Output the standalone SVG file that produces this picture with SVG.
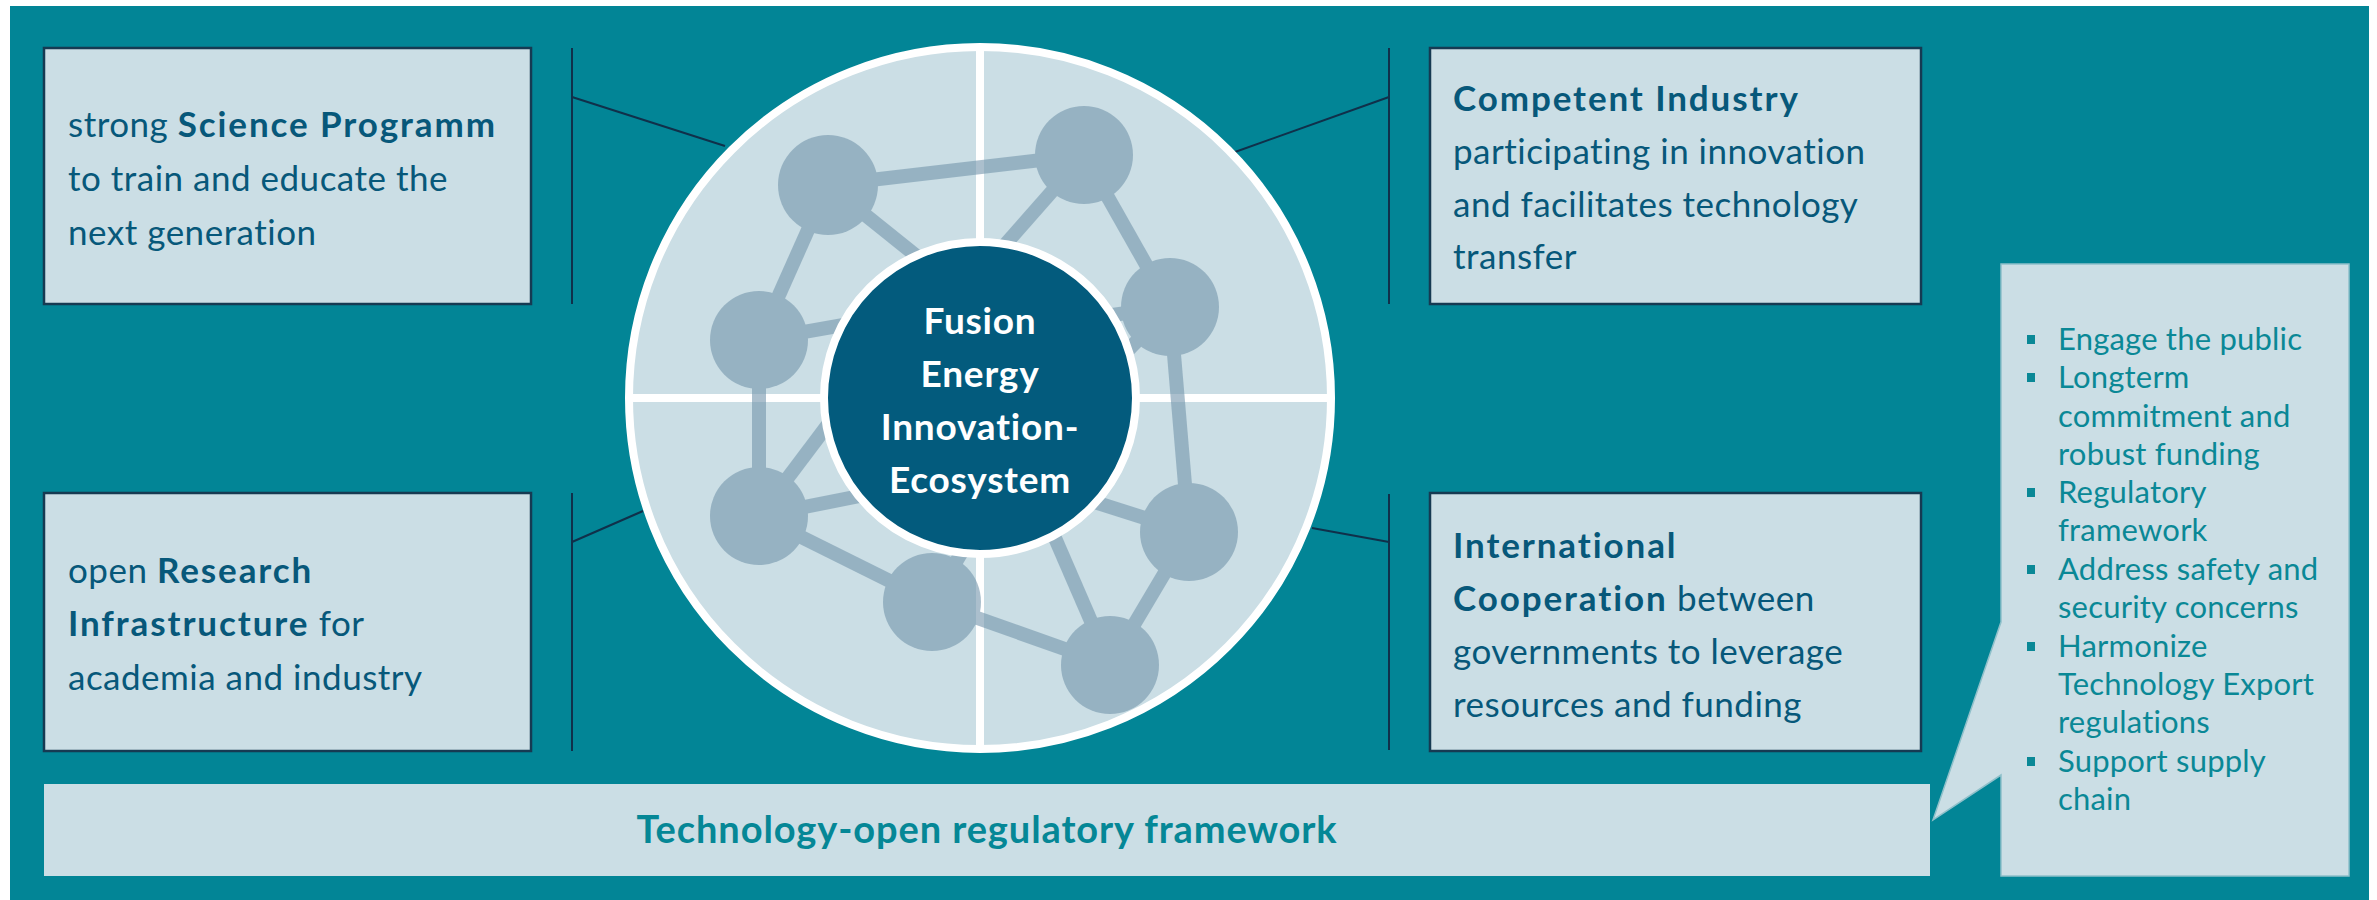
<svg xmlns="http://www.w3.org/2000/svg" width="2377" height="900" viewBox="0 0 2377 900">
  <style>
    .panel{fill:#cbdee5;stroke:#163a52;stroke-width:2.5}
    .txt{font-family:Lato,"Open Sans","Liberation Sans",sans-serif;font-size:35px;letter-spacing:0.5px;fill:#07587a}
    .b{font-weight:700;letter-spacing:1.9px}
    .conn{stroke:#10304a;stroke-width:2;fill:none}
    .bul{font-family:Lato,"Open Sans","Liberation Sans",sans-serif;font-size:31px;letter-spacing:0.2px;fill:#0a8896}
    .dot{fill:#0a8896}
    .bond{stroke:#7496ac;stroke-width:14;stroke-linecap:butt}
    .atom{fill:#7496ac}
    .core{font-family:Lato,"Open Sans","Liberation Sans",sans-serif;font-size:37px;font-weight:700;letter-spacing:0.8px;fill:#ffffff;text-anchor:middle}
  </style>

  <!-- teal backdrop -->
  <rect x="10" y="6" width="2359" height="894" fill="#028596"/>

  <!-- connectors from the four panels towards the central wheel -->
  <g id="connectors" class="conn">
    <path d="M572,48 V304 M572,97 L725,146"/>
    <path d="M1389,48 V304 M1389,97 L1235,152"/>
    <path d="M572,493 V751 M572,542 L643,511"/>
    <path d="M1389,494 V750 M1389,542 L1312,528"/>
  </g>

  <!-- central wheel with molecule network -->
  <g id="ecosystem">
    <circle cx="980" cy="398" r="351" fill="#cbdee5"/>
    <path d="M980,47 V749 M629,398 H1331" stroke="#ffffff" stroke-width="8"/>
    <g opacity="0.6">
      <g class="bond">
        <line x1="828" y1="185" x2="1084" y2="155"/>
        <line x1="828" y1="185" x2="759" y2="340"/>
        <line x1="828" y1="185" x2="1000" y2="323"/>
        <line x1="1084" y1="155" x2="1170" y2="307"/>
        <line x1="1084" y1="155" x2="952" y2="305"/>
        <line x1="759" y1="340" x2="759" y2="516"/>
        <line x1="759" y1="340" x2="900" y2="315"/>
        <line x1="1170" y1="307" x2="1040" y2="325"/>
        <line x1="1170" y1="307" x2="1060" y2="420"/>
        <line x1="1170" y1="307" x2="1189" y2="532"/>
        <line x1="759" y1="516" x2="860" y2="382"/>
        <line x1="759" y1="516" x2="900" y2="488"/>
        <line x1="759" y1="516" x2="932" y2="602"/>
        <line x1="932" y1="602" x2="990" y2="505"/>
        <line x1="932" y1="602" x2="1110" y2="665"/>
        <line x1="1189" y1="532" x2="1066" y2="493"/>
        <line x1="1189" y1="532" x2="1110" y2="665"/>
        <line x1="1110" y1="665" x2="1042" y2="508"/>
      </g>
      <g class="atom">
        <circle cx="828" cy="185" r="50"/>
        <circle cx="1084" cy="155" r="49"/>
        <circle cx="759" cy="340" r="49"/>
        <circle cx="1170" cy="307" r="49"/>
        <circle cx="759" cy="516" r="49"/>
        <circle cx="1189" cy="532" r="49"/>
        <circle cx="932" cy="602" r="49"/>
        <circle cx="1110" cy="665" r="49"/>
      </g>
    </g>
    <circle cx="980" cy="398" r="351" fill="none" stroke="#ffffff" stroke-width="8"/>
    <circle cx="980" cy="398" r="156" fill="#035b7d" stroke="#ffffff" stroke-width="8"/>
    <text class="core"><tspan x="980" y="334">Fusion</tspan><tspan x="980" y="387">Energy</tspan><tspan x="980" y="440">Innovation-</tspan><tspan x="980" y="493">Ecosystem</tspan></text>
  </g>

  <g id="science">
    <rect class="panel" x="44" y="48" width="487" height="256"/>
    <text class="txt"><tspan x="68" y="137">strong <tspan class="b">Science Programm</tspan></tspan><tspan x="68" y="191">to train and educate the</tspan><tspan x="68" y="245">next generation</tspan></text>
  </g>

  <g id="industry">
    <rect class="panel" x="1430" y="48" width="491" height="256"/>
    <text class="txt"><tspan x="1453" y="111" class="b">Competent Industry</tspan><tspan x="1453" y="164">participating in innovation</tspan><tspan x="1453" y="217">and facilitates technology</tspan><tspan x="1453" y="269">transfer</tspan></text>
  </g>

  <g id="research">
    <rect class="panel" x="44" y="493" width="487" height="258"/>
    <text class="txt"><tspan x="68" y="583">open <tspan class="b">Research</tspan></tspan><tspan x="68" y="636"><tspan class="b">Infrastructure</tspan> for</tspan><tspan x="68" y="690">academia and industry</tspan></text>
  </g>

  <g id="cooperation">
    <rect class="panel" x="1430" y="493" width="491" height="258"/>
    <text class="txt"><tspan x="1453" y="558" class="b">International</tspan><tspan x="1453" y="611"><tspan class="b">Cooperation</tspan> between</tspan><tspan x="1453" y="664">governments to leverage</tspan><tspan x="1453" y="717">resources and funding</tspan></text>
  </g>

  <g id="framework">
    <rect x="44" y="784" width="1886" height="92" fill="#cbdee5"/>
    <text x="987" y="843" text-anchor="middle" font-family="Lato,'Open Sans','Liberation Sans',sans-serif" font-size="38" font-weight="700" letter-spacing="0.9" fill="#058796">Technology-open regulatory framework</text>
  </g>

  <g id="measures">
    <path d="M2001,264 H2349 V876 H2001 V775 L1933,820 L2001,622 Z" fill="#cbdee5" stroke="#8fc0ca" stroke-width="1.5"/>
    <g class="dot">
      <rect x="2027" y="335" width="8" height="9"/>
      <rect x="2027" y="373" width="8" height="9"/>
      <rect x="2027" y="488" width="8" height="9"/>
      <rect x="2027" y="565" width="8" height="9"/>
      <rect x="2027" y="642" width="8" height="9"/>
      <rect x="2027" y="757" width="8" height="9"/>
    </g>
    <text class="bul">
      <tspan x="2058" y="350">Engage the public</tspan>
      <tspan x="2058" y="388">Longterm</tspan>
      <tspan x="2058" y="427">commitment and</tspan>
      <tspan x="2058" y="465">robust funding</tspan>
      <tspan x="2058" y="503">Regulatory</tspan>
      <tspan x="2058" y="541">framework</tspan>
      <tspan x="2058" y="580">Address safety and</tspan>
      <tspan x="2058" y="618">security concerns</tspan>
      <tspan x="2058" y="657">Harmonize</tspan>
      <tspan x="2058" y="695">Technology Export</tspan>
      <tspan x="2058" y="733">regulations</tspan>
      <tspan x="2058" y="772">Support supply</tspan>
      <tspan x="2058" y="810">chain</tspan>
    </text>
  </g>
</svg>
